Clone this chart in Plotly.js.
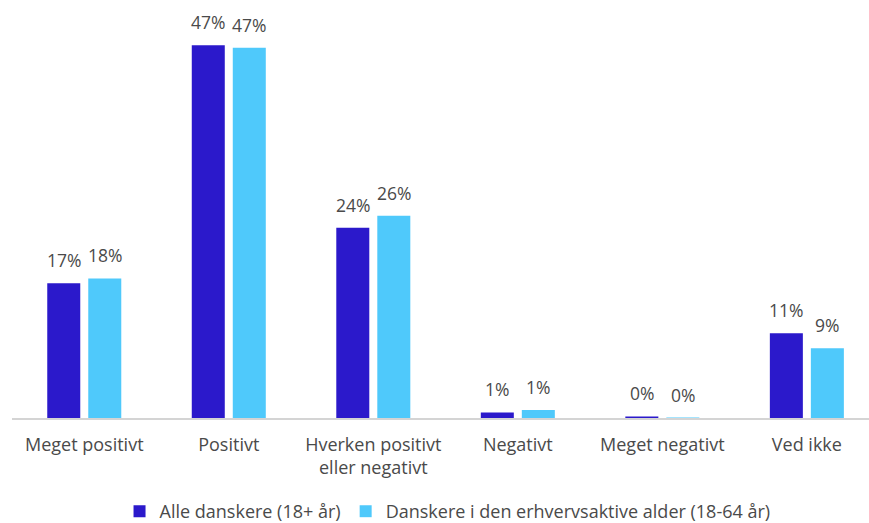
<!DOCTYPE html>
<html>
<head>
<meta charset="utf-8">
<script src="https://cdn.plot.ly/plotly-3.0.1.min.js"></script>
<style>html,body{margin:0;padding:0;background:#fff;}#chart{width:869px;height:523px;}</style>
</head>
<body>
<div id="chart"></div>
<script>
const categories = ["Meget positivt", "Positivt", "Hverken positivt<br>eller negativt", "Negativt", "Meget negativt", "Ved ikke"];
const seriesNames = ["Alle danskere (18+ år)", "Danskere i den erhvervsaktive alder (18-64 år)"];
const allValues = [17.0, 47.0, 24.0, 0.7, 0.2, 10.7];
const workValues = [17.6, 46.7, 25.5, 1.0, 0.05, 8.8];
const allLabels = ["17%", "47%", "24%", "1%", "0%", "11%"];
const workLabels = ["18%", "47%", "26%", "1%", "0%", "9%"];
const colors = ["#2b19cb", "#4fc9fb"];

const FONT = "Open Sans, Liberation Sans, Arial, sans-serif";
const TXT = "#4a4a4a";

const traces = [
  {type: "bar", name: seriesNames[0], x: categories, y: allValues, marker: {color: colors[0]}, hoverinfo: "none"},
  {type: "bar", name: seriesNames[1], x: categories, y: workValues, marker: {color: colors[1]}, hoverinfo: "none"}
];

const annotations = [];
[[allValues, allLabels, -0.5], [workValues, workLabels, 0.5]].forEach(([vals, labs, side]) => {
  categories.forEach((c, i) => {
    annotations.push({
      x: c, y: vals[i], xref: "x", yref: "y", text: labs[i], showarrow: false,
      xanchor: "center", yanchor: "bottom", xshift: side * 41, yshift: 9,
      font: {family: FONT, size: 17.5, color: TXT}
    });
  });
});

const layout = {
  width: 869, height: 523,
  margin: {l: 12, r: 0, t: 20, b: 105},
  paper_bgcolor: "#ffffff", plot_bgcolor: "#ffffff",
  font: {family: FONT, size: 18, color: TXT},
  barmode: "group", bargap: 0.4325, bargroupgap: 0.195,
  showlegend: true,
  legend: {orientation: "h", x: 0.515, xanchor: "center", xref: "container",
           y: 0.022, yanchor: "middle", yref: "container",
           font: {family: FONT, size: 18, color: TXT}, itemwidth: 30},
  xaxis: {type: "category", range: [-0.5, 5.43], showline: true, linecolor: "#d4d4d4", linewidth: 2,
          ticks: "", showgrid: false, zeroline: false, ticklabelstandoff: 9,
          tickfont: {family: FONT, size: 18, color: TXT}, fixedrange: true},
  yaxis: {range: [0, 50.2], visible: false, showgrid: false, zeroline: false, fixedrange: true},
  annotations: annotations
};

Plotly.newPlot("chart", traces, layout, {displayModeBar: false, staticPlot: true});
</script>
</body>
</html>
